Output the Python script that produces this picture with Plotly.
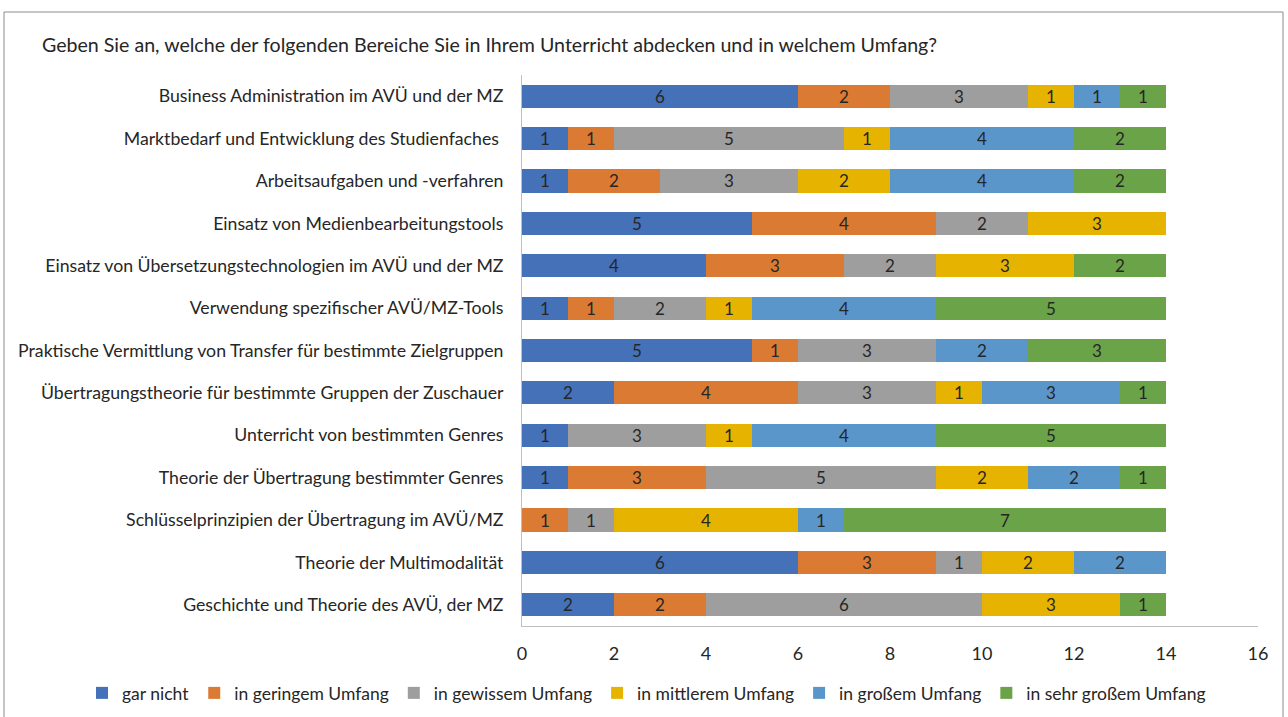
"""Stacked horizontal bar chart: coverage of teaching areas (AVÜ / MZ survey)."""

import plotly.graph_objects as go

TITLE = "Geben Sie an, welche der folgenden Bereiche Sie in Ihrem Unterricht abdecken und in welchem Umfang?"

categories = [
    "Business Administration im AVÜ und der MZ",
    "Marktbedarf und Entwicklung des Studienfaches ",
    "Arbeitsaufgaben und -verfahren",
    "Einsatz von Medienbearbeitungstools",
    "Einsatz von Übersetzungstechnologien im AVÜ und der MZ",
    "Verwendung spezifischer AVÜ/MZ-Tools",
    "Praktische Vermittlung von Transfer für bestimmte Zielgruppen",
    "Übertragungstheorie für bestimmte Gruppen der Zuschauer",
    "Unterricht von bestimmten Genres",
    "Theorie der Übertragung bestimmter Genres",
    "Schlüsselprinzipien der Übertragung im AVÜ/MZ",
    "Theorie der Multimodalität",
    "Geschichte und Theorie des AVÜ, der MZ",
]

series_names = [
    "gar nicht",
    "in geringem Umfang",
    "in gewissem Umfang",
    "in mittlerem Umfang",
    "in großem Umfang",
    "in sehr großem Umfang",
]

gar_nicht = [6, 1, 1, 5, 4, 1, 5, 2, 1, 1, 0, 6, 2]
geringem = [2, 1, 2, 4, 3, 1, 1, 4, 0, 3, 1, 3, 2]
gewissem = [3, 5, 3, 2, 2, 2, 3, 3, 3, 5, 1, 1, 6]
mittlerem = [1, 1, 2, 3, 3, 1, 0, 1, 1, 2, 4, 2, 3]
grossem = [1, 4, 4, 0, 0, 4, 2, 3, 4, 2, 1, 2, 0]
sehr_grossem = [1, 2, 2, 0, 2, 5, 3, 1, 5, 1, 7, 0, 1]

series_values = [gar_nicht, geringem, gewissem, mittlerem, grossem, sehr_grossem]
colors = ["#4571B8", "#DB7A33", "#9E9E9E", "#E6B400", "#5B96CA", "#6BA349"]

FONT = "Lato, 'Open Sans', sans-serif"
TEXT_COLOR = "#262626"

fig = go.Figure()

for name, vals, color in zip(series_names, series_values, colors):
    fig.add_trace(go.Bar(
        y=categories,
        x=[v if v else None for v in vals],
        orientation="h",
        name=name,
        marker=dict(color=color, line=dict(width=0)),
        text=[str(v) if v else "" for v in vals],
        textposition="inside",
        textangle=0,
        insidetextanchor="middle",
        constraintext="none",
        textfont=dict(family=FONT, size=17, color=TEXT_COLOR),
        hovertemplate="%{y}<br>" + name + ": %{x}<extra></extra>",
    ))

# plot area in pixels: x 522..1258, y 75..626
L, R, T, B = 522, 30, 75, 91
W, H = 1288, 717
pw, ph = W - L - R, H - T - B


def px_x(x):
    return (x - L) / pw


def px_y(y):
    return (H - B - y) / ph


fig.update_layout(
    width=W,
    height=H,
    barmode="stack",
    bargap=0.455,
    paper_bgcolor="white",
    plot_bgcolor="white",
    margin=dict(l=L, r=R, t=T, b=B, autoexpand=False),
    font=dict(family=FONT, size=17, color=TEXT_COLOR),
    showlegend=True,
    legend=dict(
        orientation="h",
        x=px_x(82), xanchor="left",
        y=px_y(693), yanchor="middle",
        font=dict(family=FONT, size=17.5, color=TEXT_COLOR),
        traceorder="normal",
        itemwidth=30,
    ),
    xaxis=dict(
        range=[0, 16],
        dtick=2,
        showgrid=False,
        zeroline=False,
        showline=True,
        linecolor="#BFBFBF",
        linewidth=1,
        ticks="outside",
        ticklen=11,
        tickcolor="rgba(0,0,0,0)",
        tickfont=dict(family=FONT, size=18, color=TEXT_COLOR),
    ),
    yaxis=dict(
        autorange="reversed",
        showgrid=False,
        showline=True,
        linecolor="#BFBFBF",
        linewidth=1,
        ticks="outside",
        ticklen=14,
        tickcolor="rgba(0,0,0,0)",
        tickfont=dict(family=FONT, size=17.7, color=TEXT_COLOR),
    ),
    annotations=[dict(
        text=TITLE,
        xref="paper", yref="paper",
        x=px_x(40), y=px_y(45),
        xanchor="left", yanchor="middle",
        showarrow=False,
        font=dict(family=FONT, size=19.6, color=TEXT_COLOR),
    )],
    shapes=[dict(
        type="rect",
        xref="paper", yref="paper",
        x0=px_x(4), x1=px_x(1283),
        y0=px_y(725), y1=px_y(12),
        line=dict(color="#8C8C8C", width=1),
        fillcolor="rgba(0,0,0,0)",
        layer="below",
    )],
)

# drop the default 8px page margin so the figure sits at the window origin
fig.write_html(
    "out.html",
    config={"displayModeBar": False},
    post_script="document.body.style.margin = '0';",
)
